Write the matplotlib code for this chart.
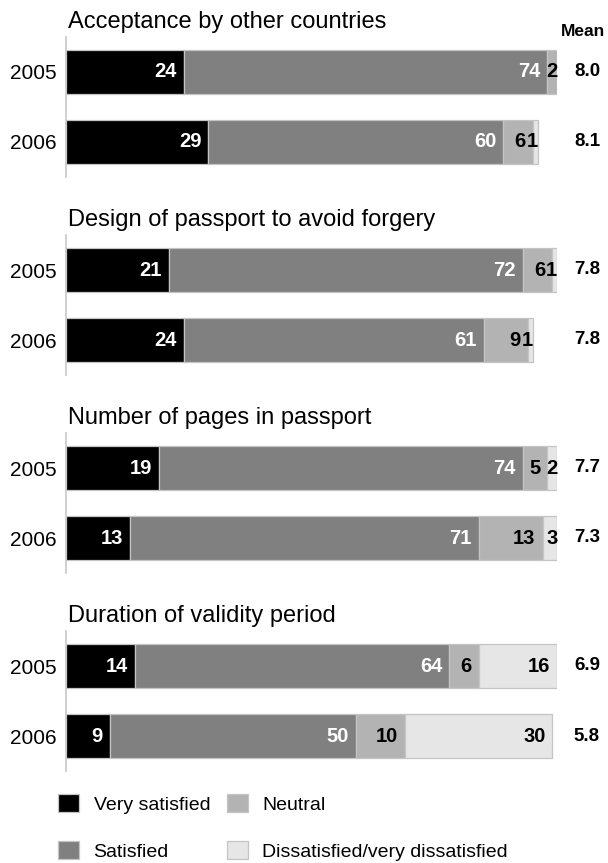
import matplotlib
matplotlib.use("Agg")
import matplotlib.pyplot as plt
from matplotlib.patches import Patch

plt.rcParams['font.family'] = ['Liberation Sans', 'DejaVu Sans']

# ---- data -----------------------------------------------------------------
topics = [
    "Acceptance by other countries",
    "Design of passport to avoid forgery",
    "Number of pages in passport",
    "Duration of validity period",
]
years = ["2005", "2006"]

very_satisfied_2005 = [24, 21, 19, 14]
very_satisfied_2006 = [29, 24, 13, 9]
satisfied_2005 = [74, 72, 74, 64]
satisfied_2006 = [60, 61, 71, 50]
neutral_2005 = [2, 6, 5, 6]
neutral_2006 = [6, 9, 13, 10]
dissatisfied_2005 = [0, 1, 2, 16]
dissatisfied_2006 = [1, 1, 3, 30]
mean_2005 = [8.0, 7.8, 7.7, 6.9]
mean_2006 = [8.1, 7.8, 7.3, 5.8]

categories = ["Very satisfied", "Satisfied", "Neutral", "Dissatisfied/very dissatisfied"]
colors = ["#000000", "#808080", "#b3b3b3", "#e6e6e6"]
label_colors = ["white", "white", "black", "black"]

# ---- layout (pixels) ------------------------------------------------------
W, H = 608, 863
fig = plt.figure(figsize=(W / 100, H / 100), dpi=100)

x0, x1 = 65.7, 557.3          # 0% and 100% positions
mean_x = 587.0
panel_top0, panel_h, panel_step = 37.0, 140.0, 198.0
bar_h = 0.62
edge = "#c4c4c4"


def fx(px):
    return px / W


def fy(py):
    return 1 - py / H


for k, topic in enumerate(topics):
    top = panel_top0 + k * panel_step
    ax = fig.add_axes([fx(x0), fy(top + panel_h), fx(x1) - fx(x0), panel_h / H])
    ax.set_xlim(0, 100)
    ax.set_ylim(1.5, -0.5)

    rows = [
        [very_satisfied_2005[k], satisfied_2005[k], neutral_2005[k], dissatisfied_2005[k]],
        [very_satisfied_2006[k], satisfied_2006[k], neutral_2006[k], dissatisfied_2006[k]],
    ]
    means = [mean_2005[k], mean_2006[k]]

    for yi, vals in enumerate(rows):
        left = 0
        for ci, v in enumerate(vals):
            if v <= 0:
                continue
            ax.barh(yi, v, left=left, height=bar_h, color=colors[ci],
                    edgecolor=edge, linewidth=0.9)
            pad_pt = -5.0 if v >= 5 else 0.0
            ax.annotate(str(v), xy=(left + v, yi), xytext=(pad_pt, 0),
                        textcoords="offset points", ha="right", va="center",
                        color=label_colors[ci], fontsize=14.5, fontweight="bold")
            left += v
        ax.text((mean_x - x0) / (x1 - x0), yi, f"{means[yi]:.1f}",
                transform=ax.get_yaxis_transform(), ha="center", va="center",
                fontsize=13.5, fontweight="bold", clip_on=False)

    ax.set_yticks([0, 1], years)
    ax.tick_params(axis="y", length=0, pad=6.3, labelsize=15)
    ax.set_xticks([])
    for s in ["top", "right", "bottom"]:
        ax.spines[s].set_visible(False)
    ax.spines["left"].set_color("#c8c8c8")
    ax.spines["left"].set_linewidth(1.2)
    ax.patch.set_visible(False)

    fig.text(fx(68), fy(28.3 + k * panel_step), topic, ha="left", va="baseline",
             fontsize=17)

fig.text(fx(605), fy(36), "Mean", ha="right", va="baseline",
         fontsize=12.5, fontweight="bold")

handles = [Patch(facecolor=c, edgecolor=edge, linewidth=0.9) for c in colors]
fig.legend(handles, categories, ncol=2, loc="upper left",
           bbox_to_anchor=(fx(58), fy(794)), frameon=False, fontsize=14,
           handlelength=1.08, handleheight=1.08, handletextpad=0.75,
           labelspacing=1.4, columnspacing=0.85, borderpad=0, borderaxespad=0)

fig.savefig("out.png", dpi=100)
